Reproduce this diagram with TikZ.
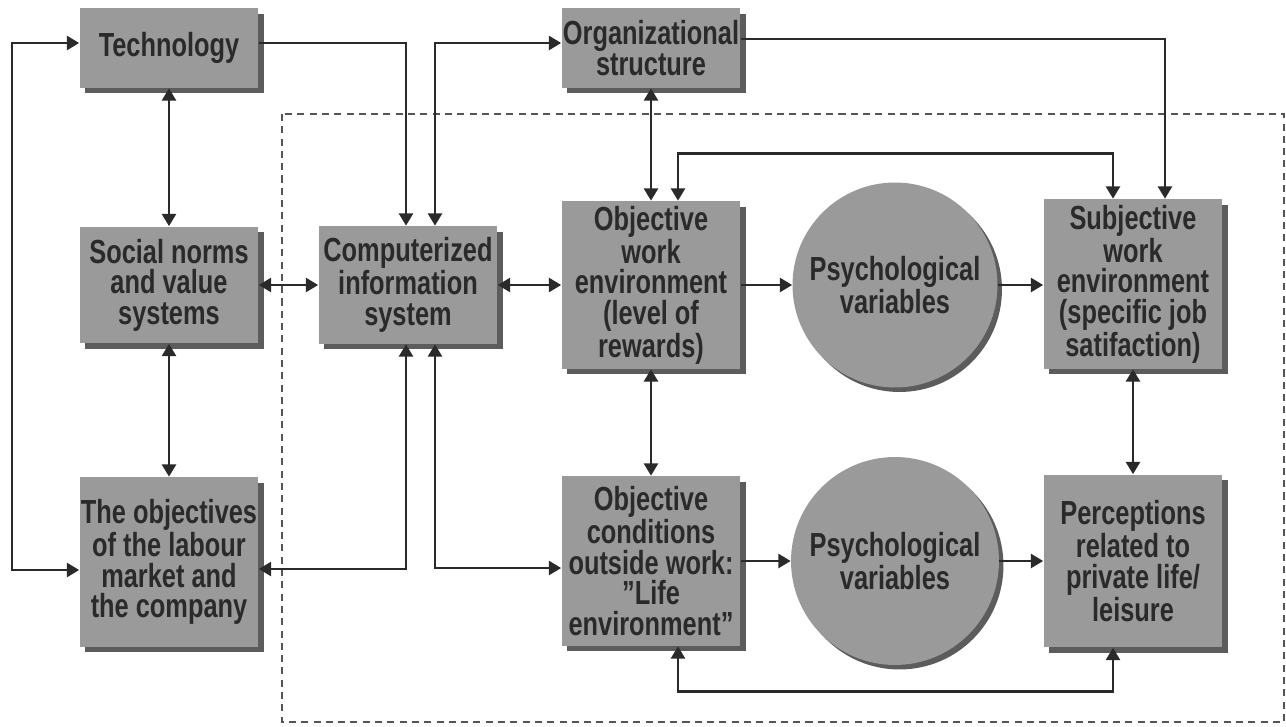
\documentclass[tikz,border=0pt]{standalone}
\usepackage{fontspec}
\newfontfamily\diagfont{Liberation Sans}[FakeStretch=0.76]
\usepackage{tikz}
\usetikzlibrary{arrows.meta,positioning,calc,shadows,shapes.geometric}
\definecolor{boxgris}{RGB}{154,154,154}
\definecolor{ombregris}{RGB}{92,92,92}
\definecolor{encre}{RGB}{42,42,42}
\tikzset{
  factorbox/.style={
    rectangle, draw=none, fill=boxgris, text=encre,
    minimum width=3.58cm, inner sep=0pt, align=center,
    font={\diagfont\bfseries\fontsize{19}{17.4}\selectfont},
    drop shadow={shadow xshift=1.1mm, shadow yshift=-1.1mm, fill=ombregris, opacity=1}
  },
  psychcircle/.style={
    circle, draw=none, fill=boxgris, text=encre,
    minimum size=4.1cm, inner sep=0pt, align=center,
    font={\diagfont\bfseries\fontsize{19}{17.4}\selectfont},
    drop shadow={shadow xshift=0.9mm, shadow yshift=-0.9mm, fill=ombregris, opacity=1}
  },
  linkboth/.style={<->, >={Triangle[length=7pt,width=8pt]}, line width=1.4pt, encre},
  linkone/.style={->, >={Triangle[length=7pt,width=8pt]}, line width=1.4pt, encre},
  zonebox/.style={draw=encre!80, line width=1pt, dash pattern=on 4pt off 3pt}
}
\begin{document}
\begin{tikzpicture}[x=0.02cm, y=0.02cm]
  \useasboundingbox (0,0) rectangle (1286,-727);
  \draw[zonebox] (282,-114) rectangle (1284,-722);
  \node[factorbox, minimum height=1.6cm] (tech) at (169,-48) {Technology};
  \node[factorbox, minimum height=2.34cm] (social) at (169,-285) {Social norms\\and value\\systems};
  \node[factorbox, minimum height=3.4cm] (objectives) at (169,-562) {The objectives\\of the labour\\market and\\the company};
  \node[factorbox, minimum height=2.36cm] (comp) at (408,-285) {Computerized\\information\\system};
  \node[factorbox, minimum height=1.6cm] (org) at (651,-48) {Organizational\\structure};
  \node[factorbox, minimum height=3.36cm] (objwork) at (651,-285) {Objective\\work\\environment\\(level of\\rewards)};
  \node[psychcircle] (psychwork) at (895,-285) {Psychological\\variables};
  \node[factorbox, minimum height=3.4cm] (subj) at (1133,-284) {Subjective\\work\\environment\\(specific job\\satifaction)};
  \node[factorbox, minimum height=3.4cm] (objcond) at (651,-561) {Objective\\conditions\\outside work:\\”Life\\environment”};
  \node[psychcircle, minimum size=4.16cm] (psychlife) at (895,-561) {Psychological\\variables};
  \node[factorbox, minimum height=3.46cm] (percep) at (1133,-561) {Perceptions\\related to\\private life/\\leisure};
  \draw[linkboth] ($(tech.west)+(0,5)$) -- ++(-67,0) |- ($(objectives.west)+(0,-8)$);
  \draw[linkboth] (tech.south) -- (social.north);
  \draw[linkboth] (social.south) -- (objectives.north);
  \draw[linkboth] (social.east) -- (comp.west);
  \draw[linkone] ($(tech.east)+(0,5)$) -| ($(comp.north)+(-2,0)$);
  \draw[linkboth] ($(org.west)+(0,5)$) -| ($(comp.north)+(27,0)$);
  \draw[linkboth] ($(comp.south)+(-2,0)$) |- ($(objectives.east)+(0,-7)$);
  \draw[linkboth] ($(comp.south)+(27,0)$) |- ($(objcond.west)+(0,-7)$);
  \draw[linkboth] (comp.east) -- (objwork.west);
  \draw[linkboth] (org.south) -- (objwork.north);
  \draw[linkone] ($(org.east)+(0,9)$) -| ($(subj.north)+(32,0)$);
  \draw[linkboth] ($(objwork.north)+(27,0)$) -- ++(0,47) -| ($(subj.north)+(-20,0)$);
  \draw[linkone] (objwork.east) -- (psychwork.west);
  \draw[linkone] (psychwork.east) -- (psychwork.east -| subj.west);
  \draw[linkboth] (objwork.south) -- (objcond.north);
  \draw[linkboth] (subj.south) -- (percep.north);
  \draw[linkone] (objcond.east) -- (psychlife.west);
  \draw[linkone] (psychlife.east) -- (percep.west);
  \draw[linkboth] ($(objcond.south)+(27,0)$) -- ++(0,-45) -| ($(percep.south)+(-20,0)$);
\end{tikzpicture}
\end{document}
